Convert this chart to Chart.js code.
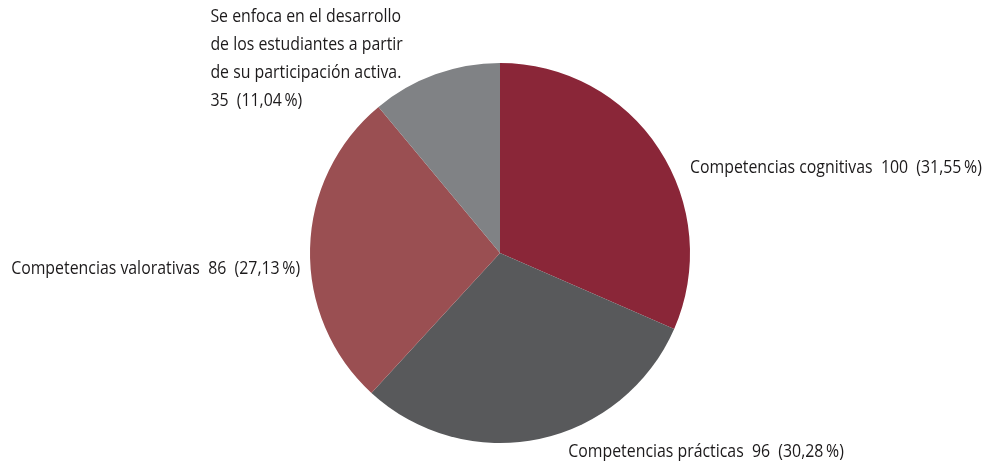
<!DOCTYPE html>
<html>
<head>
<meta charset="utf-8">
<script src="https://cdn.jsdelivr.net/npm/chart.js@4/dist/chart.umd.min.js"></script>
<style>
  body { margin: 0; background: #fff; }
  canvas { display: block; }
</style>
</head>
<body>
<canvas id="grafico" width="993" height="468"></canvas>
<script>
var categorias = [
  ['Competencias cognitivas'],
  ['Competencias prácticas'],
  ['Competencias valorativas'],
  ['Se enfoca en el desarrollo', 'de los estudiantes a partir', 'de su participación activa.']
];
var valores = [100, 96, 86, 35];
var colores = ['#8a2638', '#58595b', '#9a4f52', '#808285'];

// donde va cada etiqueta respecto al punto medio del arco
var posEtiquetas = [
  { align: 'left', dx: 31, dy: 19 },
  { align: 'left', dx: 29, dy: 13 },
  { align: 'right', dx: -10, dy: 20 },
  { align: 'left', dx: -225, dy: -58 }
];
var estrechar = 0.835; // la fuente original es condensada

var total = valores.reduce(function (a, b) { return a + b; }, 0);

function porcentaje(v) {
  return (v / total * 100).toFixed(2).replace('.', ',') + '\u2009%';
}

var pluginEtiquetas = {
  id: 'etiquetas',
  afterDatasetsDraw: function (chart) {
    var ctx = chart.ctx;
    var arcos = chart.getDatasetMeta(0).data;
    ctx.save();
    ctx.scale(estrechar, 1);
    ctx.font = '19px "Open Sans", "Noto Sans", sans-serif';
    ctx.fillStyle = '#1c1a1b';
    ctx.textBaseline = 'middle';
    arcos.forEach(function (arco, i) {
      var p = arco.getProps(['x', 'y', 'startAngle', 'endAngle', 'outerRadius'], true);
      var a = (p.startAngle + p.endAngle) / 2;
      var x = p.x + Math.cos(a) * p.outerRadius + posEtiquetas[i].dx;
      var y = p.y + Math.sin(a) * p.outerRadius + posEtiquetas[i].dy;
      var cola = valores[i] + '  (' + porcentaje(valores[i]) + ')';
      var lineas = categorias[i].slice();
      if (lineas.length > 1) {
        lineas.push(cola);
      } else {
        lineas[0] = lineas[0] + '  ' + cola;
      }
      ctx.textAlign = posEtiquetas[i].align;
      lineas.forEach(function (t, j) {
        ctx.fillText(t, x / estrechar, y + j * 28);
      });
    });
    ctx.restore();
  }
};

var ctx = document.getElementById('grafico').getContext('2d');
var miGrafico = new Chart(ctx, {
  type: 'pie',
  data: {
    labels: categorias.map(function (c) { return c.join(' '); }),
    datasets: [{
      data: valores,
      backgroundColor: colores,
      borderWidth: 0
    }]
  },
  options: {
    responsive: false,
    animation: false,
    layout: { padding: { left: 310, right: 303, top: 63, bottom: 25 } },
    plugins: {
      legend: { display: false },
      tooltip: { enabled: false }
    }
  },
  plugins: [pluginEtiquetas]
});
</script>
</body>
</html>
